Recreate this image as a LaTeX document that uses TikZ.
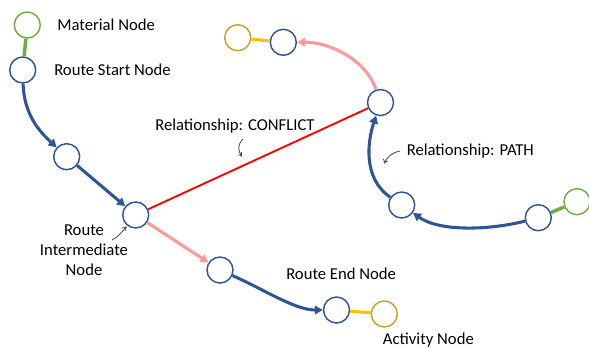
\documentclass[tikz,border=0pt]{standalone}
\usepackage{fontspec}
\setmainfont{Carlito}
\usetikzlibrary{arrows.meta}
\definecolor{nodeblue}{HTML}{2F5597}
\definecolor{edgeblue}{HTML}{2F5597}
\definecolor{matgreen}{HTML}{70AD47}
\definecolor{actgold}{HTML}{C9A227}
\definecolor{linkgold}{HTML}{FFC000}
\definecolor{flowpink}{HTML}{FF9999}
\definecolor{conflictred}{HTML}{FF0000}
\definecolor{notegray}{HTML}{404040}
\tikzset{
  route/.style={circle, draw=nodeblue, line width=1.1pt, minimum size=19.5pt, inner sep=0pt, fill=white},
  material/.style={circle, draw=matgreen, line width=1.1pt, minimum size=19.5pt, inner sep=0pt, fill=white},
  activity/.style={circle, draw=actgold, line width=1.1pt, minimum size=19.5pt, inner sep=0pt, fill=white},
  label/.style={anchor=base west, inner sep=0pt, font=\fontsize{12.5}{15}\selectfont, text=black},
  pathedge/.style={draw=edgeblue, line width=2.3pt, -{Triangle[length=6pt,width=6.5pt]}},
  nextedge/.style={draw=flowpink, line width=2.3pt, -{Triangle[length=6pt,width=6.5pt]}},
  matedge/.style={draw=matgreen, line width=2.6pt},
  actedge/.style={draw=linkgold, line width=2.3pt},
  conflictedge/.style={draw=conflictred, line width=1.4pt},
  note/.style={draw=notegray, line width=0.6pt, -{To[length=3pt,width=4pt]}},
}
\begin{document}
\begin{tikzpicture}[x=0.75pt,y=-0.75pt]
\useasboundingbox (0,0) rectangle (589,347);

\coordinate (pM) at (27.3,25);
\coordinate (pS) at (22.7,70);
\coordinate (pA) at (66.7,156.7);
\coordinate (pI) at (135.7,215);
\coordinate (pP) at (220,270);
\coordinate (pE) at (336.5,310);
\coordinate (pX) at (384.3,314);
\coordinate (pT) at (380.5,102.5);
\coordinate (pU) at (283.3,42.3);
\coordinate (pG) at (237.7,37.7);
\coordinate (pQ) at (401.7,205);
\coordinate (pR) at (538.3,217.7);
\coordinate (pH) at (577,201.7);

% nodes
\node[material] (mat) at (pM) {};
\node[route] (start) at (pS) {};
\node[route] (a) at (pA) {};
\node[route] (mid) at (pI) {};
\node[route] (p) at (pP) {};
\node[route] (end) at (pE) {};
\node[activity] (act) at (pX) {};
\node[route] (t) at (pT) {};
\node[route] (u) at (pU) {};
\node[activity] (act2) at (pG) {};
\node[route] (q) at (pQ) {};
\node[route] (r) at (pR) {};
\node[material] (mat2) at (pH) {};

% connectors
\draw[matedge] (mat) -- (start);
\draw[pathedge] (start) .. controls (24,115) and (40,132) .. (a);
\draw[pathedge] (a) -- (mid);
\draw[nextedge] (mid) -- (p);
\draw[pathedge] (p) .. controls (265,290) and (295,310) .. (end);
\draw[actedge] (end) -- (act);
\draw[conflictedge] (mid) -- (t);
\draw[pathedge] (r) .. controls (490,230) and (440,232) .. (q);
\draw[pathedge] (q) .. controls (362,178) and (368,140) .. (t);
\draw[nextedge] (t) .. controls (366,60) and (330,42) .. (u);
\draw[actedge] (u) -- (act2);
\draw[matedge] (r) -- (mat2);

% texts
\node[label] (tmat) at (57,30) {Material Node};
\node[label] (tstart) at (54,75) {Route Start Node};
\node[label] (tconf) at (155,130) {Relationship: CONFLICT};
\node[label] (tpath) at (406.5,155) {Relationship: PATH};
\node[label] (tend) at (286,279.5) {Route End Node};
\node[label] (tact) at (382.7,344) {Activity Node};
\node[anchor=base, inner sep=0pt, align=center, font=\fontsize{12.5}{15}\selectfont] (tmid) at (84,275) {Route\\Intermediate\\Node};

% pointer arrows for the annotations
\coordinate (c1s) at (243,139);
\coordinate (c1e) at (242,156.5);
\draw[note] (c1s) .. controls (237,145) and (238,151) .. (c1e);
\coordinate (c2s) at (112,240);
\coordinate (c2e) at (126.5,226.5);
\draw[note] (c2s) .. controls (118,237) and (122,232) .. (c2e);
\coordinate (c3s) at (400,151);
\coordinate (c3e) at (384,163.5);
\draw[note] (c3s) .. controls (393,152) and (387,157) .. (c3e);
\end{tikzpicture}
\end{document}
